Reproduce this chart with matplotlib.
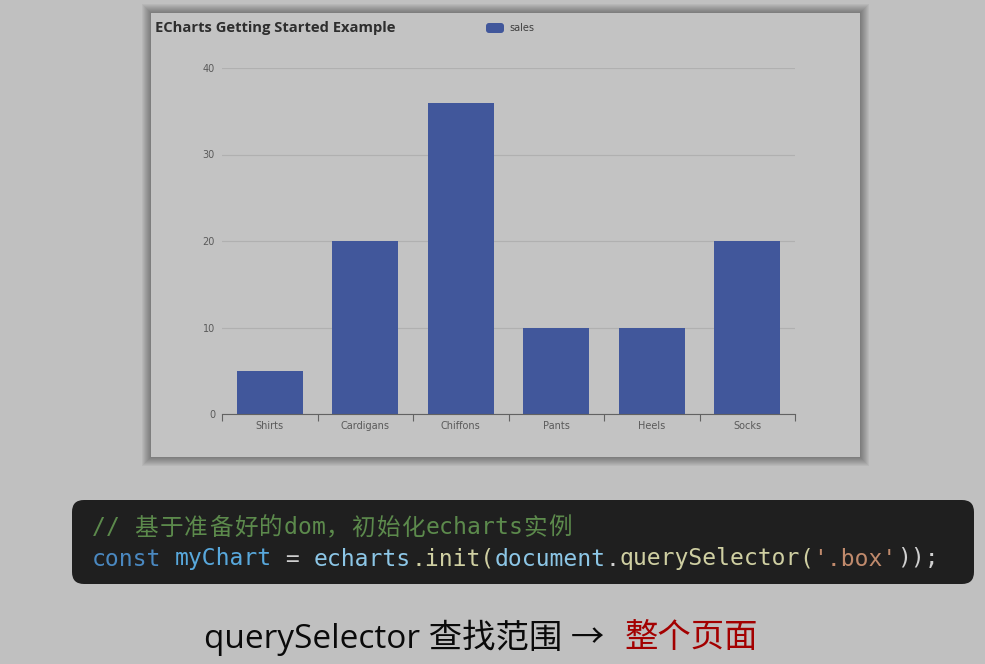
import unicodedata
import matplotlib.pyplot as plt
from matplotlib.patches import Rectangle, FancyBboxPatch

categories = ["Shirts", "Cardigans", "Chiffons", "Pants", "Heels", "Socks"]
sales = [5, 20, 36, 10, 10, 20]
y_ticks = [0, 10, 20, 30, 40]

chart_title = "ECharts Getting Started Example"
legend_label = "sales"
code_comment = "// 基于准备好的dom，初始化echarts实例"
code_tokens = [
    ("const", "#4a88c0"), (" ", "#d0d0d0"), ("myChart", "#58a8dc"),
    (" = ", "#d0d0d0"), ("echarts", "#8cc6e6"), (".init(", "#cfcfa2"),
    ("document", "#8cc6e6"), (".", "#d0d0d0"), ("querySelector", "#cfcfa2"),
    ("(", "#cfcfa2"), ("'.box'", "#c08a6c"), ("));", "#d0d0d0"),
]
caption_main = "querySelector 查找范围 →"
caption_hl = "整个页面"

W, H = 985, 664
fig = plt.figure(figsize=(W / 100, H / 100), dpi=100)
fig.patch.set_facecolor("#c0c0c0")

# full-figure pixel canvas for the slide decorations
bg = fig.add_axes([0, 0, 1, 1], zorder=0)
bg.set_xlim(0, W)
bg.set_ylim(H, 0)
bg.axis("off")

# chart panel with soft shadow
for i in range(9, 0, -1):
    bg.add_patch(Rectangle((151 - i, 13 - i), 709 + 2 * i, 444 + 2 * i,
                           facecolor="black", alpha=0.045, lw=0))
bg.add_patch(Rectangle((151, 13), 709, 444, facecolor="#c3c3c3", lw=0))

bg.text(155, 28, chart_title, fontsize=10.6, fontweight="bold", color="#2e2e2e",
        va="center", family=["Open Sans", "DejaVu Sans"])
bg.add_patch(FancyBboxPatch((486, 23), 18, 10, boxstyle="round,pad=0,rounding_size=3",
                            facecolor="#41579b", lw=0))
bg.text(509, 28, legend_label, fontsize=7, color="#404040", va="center")

# code block
bg.add_patch(FancyBboxPatch((72, 500), 902, 84, boxstyle="round,pad=0,rounding_size=12",
                            facecolor="#1f1f1f", lw=0))
mono = ["DejaVu Sans Mono", "Noto Sans CJK SC"]
r = fig.canvas.get_renderer()
probe = bg.text(0, 0, "0" * 20, fontsize=16.6, family=mono)
adv = probe.get_window_extent(renderer=r).width / 20
probe.remove()

# comment: wide (CJK) chars get their own advance
cx = 92
for ch in code_comment:
    if unicodedata.east_asian_width(ch) in ("W", "F"):
        bg.text(cx + 12.5, 528, ch, fontsize=17, color="#5c8a4c",
                va="center", ha="center", family=mono)
        cx += 25
    else:
        bg.text(cx, 528, ch, fontsize=16.6, color="#5c8a4c", va="center", family=mono)
        cx += adv

col = 0
for s, c in code_tokens:
    bg.text(92 + col * adv, 559, s, fontsize=16.6, color=c, va="center", family=mono)
    col += len(s)

# caption
cap = ["Open Sans", "Noto Sans CJK SC", "DejaVu Sans"]
t = bg.text(204, 638, caption_main, fontsize=24, color="#0a0a0a", va="center", family=cap)
w = t.get_window_extent(renderer=r).width
bg.text(204 + w + 20, 638, caption_hl, fontsize=24, color="#a30000", va="center", family=cap)

# the bar chart
ax = fig.add_axes([222 / W, 1 - 414 / H, 573 / W, 346 / H], zorder=1)
ax.set_facecolor("none")
x = range(len(categories))
ax.bar(x, sales, width=0.69, color="#41579b", zorder=2)
ax.set_xlim(-0.5, len(categories) - 0.5)
ax.set_ylim(0, 40)
ax.set_yticks(y_ticks)
ax.yaxis.grid(True, color="#b0b0b0", lw=0.8)
ax.set_axisbelow(True)
for sp in ["top", "right", "left"]:
    ax.spines[sp].set_visible(False)
ax.spines["bottom"].set_color("#626262")
ax.tick_params(axis="y", length=0, pad=5, labelsize=7, labelcolor="#5a5a5a")
ax.set_xticks([i - 0.5 for i in range(len(categories) + 1)])
ax.set_xticklabels([])
ax.tick_params(axis="x", which="major", length=5, color="#626262")
ax.set_xticks(list(x), minor=True)
ax.set_xticklabels(categories, minor=True)
ax.tick_params(axis="x", which="minor", length=0, pad=5, labelsize=7, labelcolor="#5a5a5a")

fig.savefig("out.png", dpi=100, facecolor=fig.get_facecolor())
